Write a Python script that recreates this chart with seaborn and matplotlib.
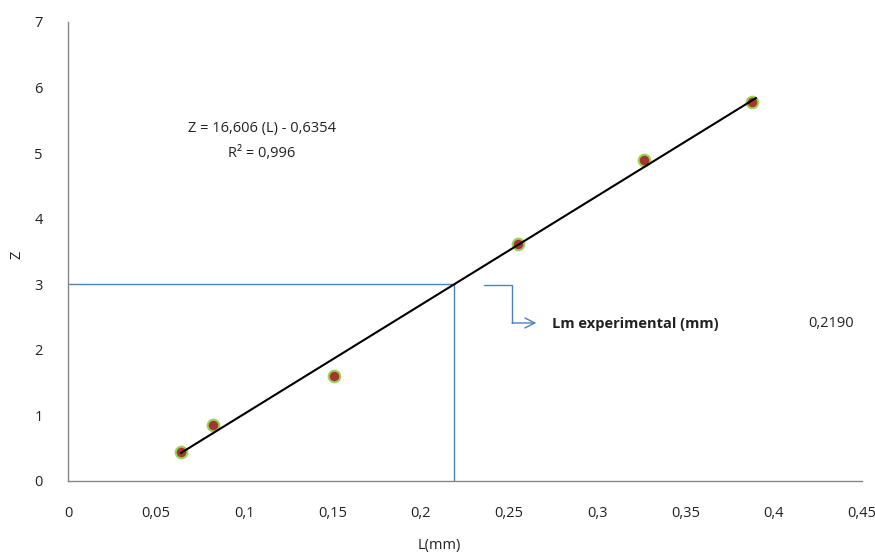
import matplotlib
matplotlib.use("Agg")
import matplotlib.pyplot as plt
import seaborn as sns
import numpy as np
import pandas as pd

# Measured points
L_mm = [0.064, 0.082, 0.151, 0.255, 0.3265, 0.388]
Z = [0.44, 0.85, 1.60, 3.61, 4.89, 5.78]

# Linear fit reported on the chart
slope = 16.606
intercept = -0.6354
r2_text = "R² = 0,996"
eq_text = "Z = 16,606 (L) - 0,6354"

# Reading at Z = 3
z_target = 3
lm_exp = 0.2190

x_ticks = [0, 0.05, 0.1, 0.15, 0.2, 0.25, 0.3, 0.35, 0.4, 0.45]
x_tick_labels = ["0", "0,05", "0,1", "0,15", "0,2", "0,25", "0,3", "0,35", "0,4", "0,45"]
y_ticks = [0, 1, 2, 3, 4, 5, 6, 7]

sns.set_theme(style="white")
plt.rcParams["font.family"] = ["Open Sans", "DejaVu Sans"]

fig = plt.figure(figsize=(8.75, 5.58), dpi=100)
ax = fig.add_axes([0.0777, 0.138, 0.9073, 0.8226])

df = pd.DataFrame({"L": L_mm, "Z": Z})
fit_x = np.array([min(L_mm), max(L_mm) + 0.002])
fit = pd.DataFrame({"L": fit_x, "Z": slope * fit_x + intercept})

blue = "#4F81BD"
# Guide lines at Z = 3
ax.plot([0, lm_exp], [z_target, z_target], color=blue, lw=1.0, zorder=1)
ax.plot([lm_exp, lm_exp], [0, z_target], color=blue, lw=1.0, zorder=1)

sns.scatterplot(data=df, x="L", y="Z", ax=ax, s=70, color="#A5352F",
                edgecolor="#9BD35A", linewidth=1.5, zorder=3)
sns.lineplot(data=fit, x="L", y="Z", ax=ax, color="black", lw=1.5, zorder=4)

ax.set_xlim(0, 0.45)
ax.set_ylim(0, 7)
ax.set_xticks(x_ticks)
ax.set_xticklabels(x_tick_labels)
ax.set_yticks(y_ticks)
ax.tick_params(axis="x", length=0, pad=18, labelsize=10.5, colors="#222222")
ax.tick_params(axis="y", length=0, pad=18, labelsize=10.5, colors="#222222")

for side in ["top", "right"]:
    ax.spines[side].set_visible(False)
for side in ["left", "bottom"]:
    ax.spines[side].set_color("#868686")
    ax.spines[side].set_linewidth(1.0)

ax.set_xlabel("L(mm)", fontsize=10.5, color="#222222")
ax.set_ylabel("Z", fontsize=10.5, color="#222222")
ax.xaxis.set_label_coords(0.468, -0.124)
ax.yaxis.set_label_coords(-0.055, 0.492)

# Regression equation
ax.text(0.110, 5.38, eq_text, ha="center", va="center", fontsize=10.5, color="#222222")
ax.text(0.110, 4.99, r2_text, ha="center", va="center", fontsize=10.5, color="#222222")

# Elbow connector pointing to the result
ax.plot([0.2358, 0.2517, 0.2517], [2.99, 2.99, 2.41], color=blue, lw=1.0,
        solid_joinstyle="miter", zorder=2)
ax.annotate("", xy=(0.2655, 2.41), xytext=(0.2517, 2.41),
            arrowprops=dict(arrowstyle="->,head_length=0.6,head_width=0.3",
                            color=blue, lw=1.0, shrinkA=0, shrinkB=0))
ax.text(0.2744, 2.40, "Lm experimental (mm)", ha="left", va="center",
        fontsize=10.5, fontweight="bold", color="#222222")
ax.text(0.4195, 2.40, f"{lm_exp:.4f}".replace(".", ","), ha="left", va="center",
        fontsize=10.5, color="#222222")

fig.savefig("out.png", dpi=100)
